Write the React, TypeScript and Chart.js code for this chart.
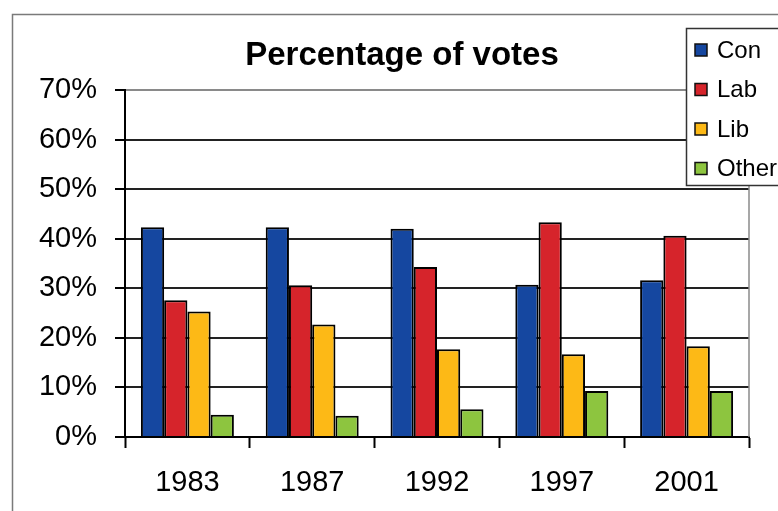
import React, { useEffect, useRef } from 'react';
import { Chart, registerables } from 'chart.js';

Chart.register(...registerables);

const categories = ['1983', '1987', '1992', '1997', '2001'];
const conValues = [42.3, 42.3, 42.0, 30.7, 31.6];
const labValues = [27.6, 30.6, 34.3, 43.3, 40.6];
const libValues = [25.3, 22.7, 17.7, 16.7, 18.3];
const otherValues = [4.5, 4.3, 5.6, 9.3, 9.3];
const seriesNames = ['Con', 'Lab', 'Lib', 'Other'];
const seriesColors = ['#1547A0', '#D6242B', '#FDB916', '#8DC53F'];
const yTicks = [0, 10, 20, 30, 40, 50, 60, 70];
const titleText = 'Percentage of votes';

const FONT = '"Liberation Sans", Arial, Helvetica, sans-serif';

const framePlugin = {
  id: 'frame',
  beforeDraw(chart: any) {
    const { ctx, width, height } = chart;
    ctx.save();
    ctx.fillStyle = '#ffffff';
    ctx.fillRect(0, 0, width, height);
    ctx.strokeStyle = '#7a7a7a';
    ctx.lineWidth = 1.5;
    ctx.strokeRect(12.5, 14.5, width + 40, height + 40);
    ctx.restore();
  },
  beforeDatasetsDraw(chart: any) {
    const { ctx, chartArea } = chart;
    ctx.save();
    ctx.strokeStyle = '#8a8a8a';
    ctx.lineWidth = 1.5;
    ctx.beginPath();
    ctx.moveTo(chartArea.right, chartArea.top);
    ctx.lineTo(chartArea.right, chartArea.bottom);
    ctx.stroke();
    ctx.restore();
  },
};

const titlePlugin = {
  id: 'customTitle',
  afterDraw(chart: any) {
    const { ctx } = chart;
    ctx.save();
    ctx.fillStyle = '#000';
    ctx.font = `bold 33px ${FONT}`;
    ctx.textAlign = 'center';
    ctx.textBaseline = 'middle';
    ctx.fillText(titleText, 402, 56);
    ctx.restore();
  },
};

const legendPlugin = {
  id: 'customLegend',
  afterDraw(chart: any) {
    const { ctx } = chart;
    const x0 = 686.5;
    const y0 = 28.5;
    ctx.save();
    ctx.fillStyle = '#ffffff';
    ctx.fillRect(x0, y0, 200, 157);
    ctx.strokeStyle = '#333';
    ctx.lineWidth = 1.5;
    ctx.strokeRect(x0, y0, 200, 157);
    ctx.font = `24px ${FONT}`;
    ctx.textBaseline = 'middle';
    ctx.textAlign = 'left';
    chart.data.datasets.forEach((ds: any, i: number) => {
      const cy = 50 + i * 39.5;
      ctx.fillStyle = ds.backgroundColor;
      ctx.fillRect(695, cy - 6, 12, 12);
      ctx.strokeStyle = '#111';
      ctx.lineWidth = 1.5;
      ctx.strokeRect(695, cy - 6, 12, 12);
      ctx.fillStyle = '#000';
      ctx.fillText(ds.label, 717, cy + 1);
    });
    ctx.restore();
  },
};

export default function App() {
  const canvasRef = useRef<HTMLCanvasElement | null>(null);

  useEffect(() => {
    if (!canvasRef.current) return;
    const seriesValues = [conValues, labValues, libValues, otherValues];
    const chart = new Chart(canvasRef.current, {
      type: 'bar',
      data: {
        labels: categories,
        datasets: seriesNames.map((name, i) => ({
          label: name,
          data: seriesValues[i],
          backgroundColor: seriesColors[i],
          borderColor: '#000',
          borderWidth: 2,
          categoryPercentage: 0.745,
          barPercentage: 1.0,
        })),
      },
      options: {
        animation: false,
        responsive: true,
        maintainAspectRatio: false,
        devicePixelRatio: 1,
        layout: { padding: { top: 90, left: 0, right: 29, bottom: 0 } },
        plugins: {
          legend: { display: false },
          title: { display: false },
          tooltip: { enabled: false },
        },
        scales: {
          x: {
            afterFit: (s: any) => {
              s.height = 74;
            },
            grid: {
              display: true,
              drawOnChartArea: false,
              offset: true,
              tickLength: 11,
              tickColor: '#000',
              tickWidth: 2,
              color: '#000',
            },
            border: { display: true, color: '#000', width: 2 },
            ticks: {
              color: '#000',
              padding: 18,
              font: { family: FONT, size: 29 },
              maxRotation: 0,
            },
          },
          y: {
            min: yTicks[0],
            max: yTicks[yTicks.length - 1],
            afterFit: (s: any) => {
              s.width = 125;
            },
            afterBuildTicks: (s: any) => {
              s.ticks = yTicks.map((v) => ({ value: v }));
            },
            grid: {
              color: (c: any) => (c.tick && c.tick.value === yTicks[yTicks.length - 1] ? '#8a8a8a' : '#222'),
              lineWidth: 2,
              tickLength: 10,
              tickColor: '#000',
              tickWidth: 2,
            },
            border: { display: true, color: '#000', width: 2 },
            ticks: {
              color: '#000',
              padding: 18,
              font: { family: FONT, size: 29 },
              callback: (v: any) => `${v}%`,
            },
          },
        },
      },
      plugins: [framePlugin, titlePlugin, legendPlugin],
    });
    return () => chart.destroy();
  }, []);

  return (
    <div style={{ position: 'fixed', left: 0, top: 0, width: 778, height: 511, background: '#fff' }}>
      <canvas ref={canvasRef} />
    </div>
  );
}
